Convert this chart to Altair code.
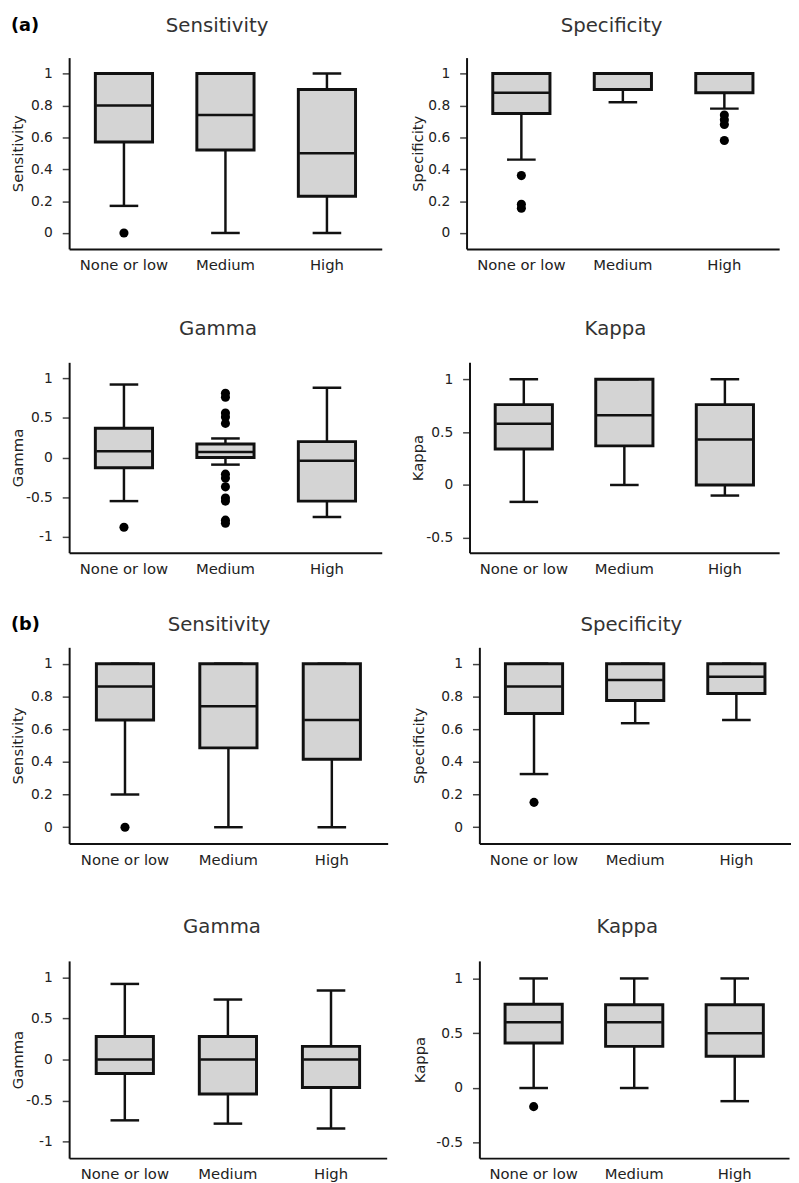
import altair as alt
import pandas as pd

FONT = "DejaVu Sans"
CATEGORIES = ["None or low", "Medium", "High"]

# ---------------- (a) ----------------
A_SENS_LO = [0.17, 0.0, 0.0]
A_SENS_Q1 = [0.57, 0.52, 0.23]
A_SENS_MED = [0.80, 0.74, 0.50]
A_SENS_Q3 = [1.0, 1.0, 0.90]
A_SENS_HI = [1.0, 1.0, 1.0]
A_SENS_OUT_CAT = ["None or low"]
A_SENS_OUT_VAL = [0.0]

A_SPEC_LO = [0.46, 0.82, 0.78]
A_SPEC_Q1 = [0.75, 0.90, 0.88]
A_SPEC_MED = [0.88, 1.0, 1.0]
A_SPEC_Q3 = [1.0, 1.0, 1.0]
A_SPEC_HI = [1.0, 1.0, 1.0]
A_SPEC_OUT_CAT = ["None or low", "None or low", "None or low", "High", "High", "High", "High"]
A_SPEC_OUT_VAL = [0.36, 0.18, 0.155, 0.74, 0.71, 0.68, 0.58]

A_GAM_LO = [-0.55, -0.09, -0.75]
A_GAM_Q1 = [-0.13, 0.0, -0.55]
A_GAM_MED = [0.08, 0.07, -0.04]
A_GAM_Q3 = [0.37, 0.17, 0.20]
A_GAM_HI = [0.92, 0.24, 0.88]
A_GAM_OUT_CAT = ["None or low"] + ["Medium"] * 12
A_GAM_OUT_VAL = [-0.88, 0.81, 0.76, 0.56, 0.51, 0.43, -0.21, -0.26, -0.37, -0.51, -0.55, -0.79, -0.83]

A_KAP_LO = [-0.16, 0.0, -0.10]
A_KAP_Q1 = [0.34, 0.37, 0.0]
A_KAP_MED = [0.58, 0.66, 0.43]
A_KAP_Q3 = [0.76, 1.0, 0.76]
A_KAP_HI = [1.0, 1.0, 1.0]
A_KAP_OUT_CAT = []
A_KAP_OUT_VAL = []

# ---------------- (b) ----------------
B_SENS_LO = [0.20, 0.0, 0.0]
B_SENS_Q1 = [0.655, 0.485, 0.415]
B_SENS_MED = [0.86, 0.74, 0.655]
B_SENS_Q3 = [1.0, 1.0, 1.0]
B_SENS_HI = [1.0, 1.0, 1.0]
B_SENS_OUT_CAT = ["None or low"]
B_SENS_OUT_VAL = [0.0]

B_SPEC_LO = [0.325, 0.636, 0.656]
B_SPEC_Q1 = [0.695, 0.775, 0.818]
B_SPEC_MED = [0.86, 0.90, 0.92]
B_SPEC_Q3 = [1.0, 1.0, 1.0]
B_SPEC_HI = [1.0, 1.0, 1.0]
B_SPEC_OUT_CAT = ["None or low"]
B_SPEC_OUT_VAL = [0.152]

B_GAM_LO = [-0.74, -0.78, -0.84]
B_GAM_Q1 = [-0.17, -0.42, -0.34]
B_GAM_MED = [0.0, 0.0, 0.0]
B_GAM_Q3 = [0.28, 0.28, 0.16]
B_GAM_HI = [0.92, 0.73, 0.84]
B_GAM_OUT_CAT = []
B_GAM_OUT_VAL = []

B_KAP_LO = [0.0, 0.0, -0.12]
B_KAP_Q1 = [0.41, 0.38, 0.29]
B_KAP_MED = [0.60, 0.60, 0.50]
B_KAP_Q3 = [0.765, 0.76, 0.76]
B_KAP_HI = [1.0, 1.0, 1.0]
B_KAP_OUT_CAT = ["None or low"]
B_KAP_OUT_VAL = [-0.17]

PROP_TICKS = [0, 0.2, 0.4, 0.6, 0.8, 1]
GAM_TICKS = [-1, -0.5, 0, 0.5, 1]
KAP_TICKS = [-0.5, 0, 0.5, 1]
PROP_DOMAIN = [-0.1, 1.1]
GAM_DOMAIN = [-1.2, 1.2]
KAP_DOMAIN = [-0.64, 1.16]
SECTION_TAGS = ["(a)", "(b)"]

INK = "#111111"
LABEL_EXPR = ("datum.value < 0 ? '-' + format(-datum.value, '.1~f') "
              ": format(datum.value, '.1~f')")


def panel(title, lo, q1, med, q3, hi, out_cat, out_val, domain, ticks,
          width, height, extent, title_x, title_y, tag=None):
    stats = pd.DataFrame({"cat": CATEGORIES, "lo": lo, "q1": q1, "med": med,
                          "q3": q3, "hi": hi})
    xenc = alt.X("cat:N", sort=CATEGORIES,
                 scale=alt.Scale(paddingInner=0, paddingOuter=0.04),
                 axis=alt.Axis(title=None, labelAngle=0, ticks=False, tickSize=0,
                               labelPadding=9, labelFontSize=15))
    ysc = alt.Scale(domain=domain, nice=False, zero=False)
    yax = alt.Axis(title=title, values=ticks, labelExpr=LABEL_EXPR, tickSize=7,
                   labelPadding=10, minExtent=extent, maxExtent=extent,
                   titlePadding=0, labelFontSize=14, titleFontSize=15)

    def y(f):
        return alt.Y(f"{f}:Q", scale=ysc, axis=yax)

    base = alt.Chart(stats)
    whisk = base.mark_rule(color=INK, strokeWidth=2.5).encode(x=xenc, y=y("lo"), y2="hi:Q")
    box = base.mark_bar(size=58, fill="#d4d4d4", stroke=INK, strokeWidth=3).encode(
        x=xenc, y=y("q1"), y2="q3:Q")
    medt = base.mark_tick(size=56, thickness=2.5, color=INK, opacity=1).encode(x=xenc, y=y("med"))
    caplo = base.mark_tick(size=29, thickness=2.5, color=INK, opacity=1).encode(x=xenc, y=y("lo"))
    caphi = base.mark_tick(size=29, thickness=2.5, color=INK, opacity=1).encode(x=xenc, y=y("hi"))
    layers = [whisk, box, medt, caplo, caphi]
    if len(out_val):
        outs = pd.DataFrame({"cat": out_cat, "v": out_val})
        pts = alt.Chart(outs).mark_circle(size=85, color="#000000", opacity=1).encode(
            x=xenc, y=y("v"))
        layers.append(pts)
    ttl = alt.Chart(pd.DataFrame({"t": [title]})).mark_text(
        align="center", baseline="middle", fontSize=20, font=FONT,
        color="#333333").encode(text="t:N", x=alt.value(title_x), y=alt.value(-title_y))
    layers.append(ttl)
    if tag:
        txt = alt.Chart(pd.DataFrame({"t": [tag]})).mark_text(
            align="left", baseline="middle", fontSize=18, fontWeight="bold",
            font=FONT, color="#000000").encode(
            text="t:N", x=alt.value(-59), y=alt.value(-title_y))
        layers.append(txt)
    return alt.layer(*layers).properties(width=width, height=height)


a1 = panel("Sensitivity", A_SENS_LO, A_SENS_Q1, A_SENS_MED, A_SENS_Q3, A_SENS_HI,
           A_SENS_OUT_CAT, A_SENS_OUT_VAL, PROP_DOMAIN, PROP_TICKS, 317, 194, 44, 150, 32,
           SECTION_TAGS[0])
a2 = panel("Specificity", A_SPEC_LO, A_SPEC_Q1, A_SPEC_MED, A_SPEC_Q3, A_SPEC_HI,
           A_SPEC_OUT_CAT, A_SPEC_OUT_VAL, PROP_DOMAIN, PROP_TICKS, 317, 194, 42, 147, 32)
a3 = panel("Gamma", A_GAM_LO, A_GAM_Q1, A_GAM_MED, A_GAM_Q3, A_GAM_HI,
           A_GAM_OUT_CAT, A_GAM_OUT_VAL, GAM_DOMAIN, GAM_TICKS, 317, 193, 44, 151, 34)
a4 = panel("Kappa", A_KAP_LO, A_KAP_Q1, A_KAP_MED, A_KAP_Q3, A_KAP_HI,
           A_KAP_OUT_CAT, A_KAP_OUT_VAL, KAP_DOMAIN, KAP_TICKS, 314, 193, 45, 148, 34)
b1 = panel("Sensitivity", B_SENS_LO, B_SENS_Q1, B_SENS_MED, B_SENS_Q3, B_SENS_HI,
           B_SENS_OUT_CAT, B_SENS_OUT_VAL, PROP_DOMAIN, PROP_TICKS, 323, 199, 44, 152, 23,
           SECTION_TAGS[1])
b2 = panel("Specificity", B_SPEC_LO, B_SPEC_Q1, B_SPEC_MED, B_SPEC_Q3, B_SPEC_HI,
           B_SPEC_OUT_CAT, B_SPEC_OUT_VAL, PROP_DOMAIN, PROP_TICKS, 316, 199, 54, 154, 23)
b3 = panel("Gamma", B_GAM_LO, B_GAM_Q1, B_GAM_MED, B_GAM_Q3, B_GAM_HI,
           B_GAM_OUT_CAT, B_GAM_OUT_VAL, GAM_DOMAIN, GAM_TICKS, 322, 200, 44, 155, 34)
b4 = panel("Kappa", B_KAP_LO, B_KAP_Q1, B_KAP_MED, B_KAP_Q3, B_KAP_HI,
           B_KAP_OUT_CAT, B_KAP_OUT_VAL, KAP_DOMAIN, KAP_TICKS, 314, 200, 53, 150, 34)

row1 = alt.hconcat(a1, a2, spacing=29)
row2 = alt.hconcat(a3, a4, spacing=29)
row3 = alt.hconcat(b1, b2, spacing=24)
row4 = alt.hconcat(b3, b4, spacing=26)

chart = alt.vconcat(
    row1,
    alt.vconcat(row2, alt.vconcat(row3, row4, spacing=51), spacing=39),
    spacing=47,
).properties(
    padding={"left": 3, "top": 0, "right": 0, "bottom": 0}, background="white"
).configure_view(strokeWidth=0).configure_axis(
    grid=False, domainColor=INK, domainWidth=2, tickColor="#444444", tickWidth=1.5,
    labelColor="#222222", titleColor="#222222", labelFont=FONT, titleFont=FONT,
    titleFontWeight="normal")

chart.save("out.html", embed_options={"renderer": "svg", "actions": False})
